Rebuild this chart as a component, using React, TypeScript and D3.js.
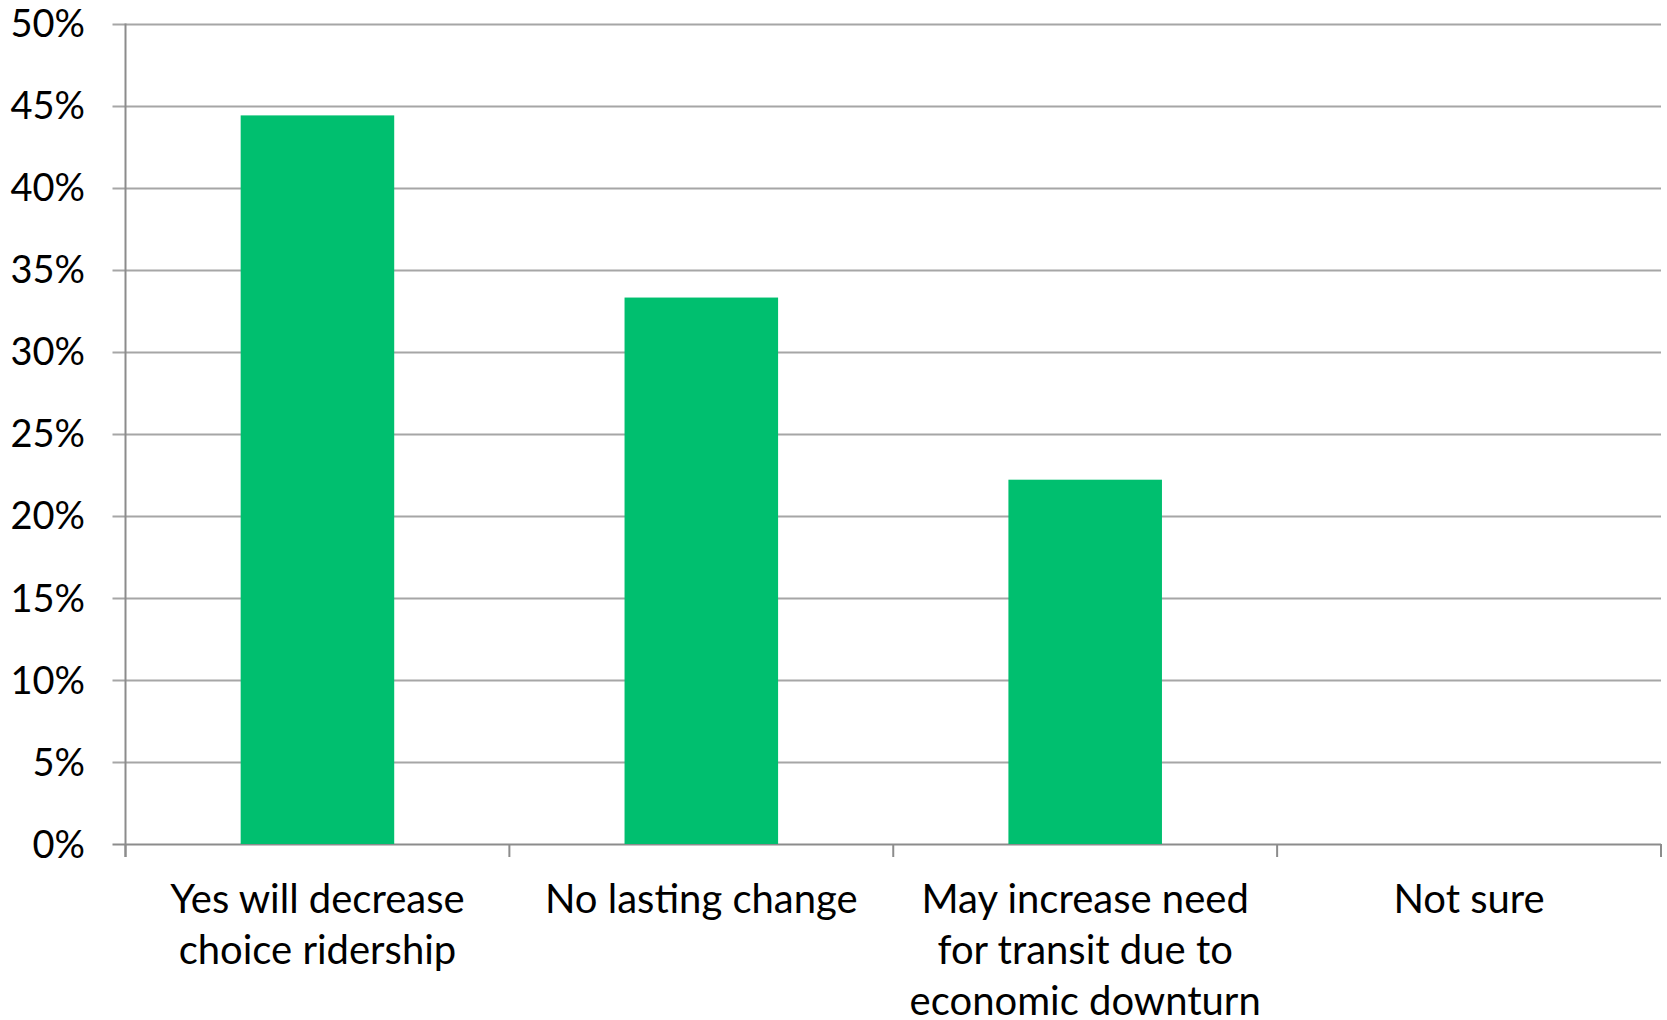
import React from "react";
import * as d3 from "d3";

const categories: string[][] = [
  ["Yes will decrease", "choice ridership"],
  ["No lasting change"],
  ["May increase need", "for transit due to", "economic downturn"],
  ["Not sure"],
];
const values: number[] = [0.444, 0.333, 0.222, 0];
const yTicks: number[] = [0, 0.05, 0.1, 0.15, 0.2, 0.25, 0.3, 0.35, 0.4, 0.45, 0.5];

const W = 1667;
const H = 1020;
const margin = { left: 125.5, right: 6, top: 23.5, bottom: 176 };
const FONT = "Lato, 'Open Sans', sans-serif";

export default function App() {
  const x = d3
    .scaleBand<number>()
    .domain(d3.range(categories.length))
    .range([margin.left, W - margin.right])
    .paddingInner(0.6)
    .paddingOuter(0.3);
  const band = d3
    .scaleBand<number>()
    .domain(d3.range(categories.length))
    .range([margin.left, W - margin.right]);
  const y = d3.scaleLinear().domain([0, 0.5]).range([H - margin.bottom, margin.top]);
  const fmt = d3.format(".0%");
  const grid = "#a6a6a6";
  const axis = "#8c8c8c";
  return (
    <svg width={W} height={H} style={{ position: "absolute", left: 0, top: 0 }}>
      <rect width={W} height={H} fill="#fff" />
      {yTicks.map((t) => (
        <g key={t}>
          <line
            x1={margin.left - 13}
            x2={W - margin.right}
            y1={Math.round(y(t)) + 0.5}
            y2={Math.round(y(t)) + 0.5}
            stroke={t === 0 ? axis : grid}
            strokeWidth={2}
          />
          <text
            x={85}
            y={y(t)}
            dy="0.36em"
            textAnchor="end"
            fontFamily={FONT}
            fontSize={38}
            fill="#000"
          >
            {fmt(t)}
          </text>
        </g>
      ))}
      {values.map((v, i) => (
        <rect
          key={i}
          x={x(i)}
          y={y(v)}
          width={x.bandwidth()}
          height={y(0) - y(v)}
          fill="#00BF6F"
        />
      ))}
      <line
        x1={margin.left}
        x2={margin.left}
        y1={margin.top}
        y2={y(0) + 13}
        stroke={axis}
        strokeWidth={2}
      />
      {d3.range(categories.length + 1).map((i) => {
        const xx = i < categories.length ? band(i)! : W - margin.right;
        return (
          <line key={i} x1={xx} x2={xx} y1={y(0)} y2={y(0) + 13} stroke={axis} strokeWidth={2} />
        );
      })}
      {categories.map((lines, i) => (
        <text
          key={i}
          x={band(i)! + band.bandwidth() / 2}
          y={913}
          textAnchor="middle"
          fontFamily={FONT}
          fontSize={40}
          fill="#000"
        >
          {lines.map((l, j) => (
            <tspan key={j} x={band(i)! + band.bandwidth() / 2} dy={j === 0 ? 0 : 51}>
              {l}
            </tspan>
          ))}
        </text>
      ))}
    </svg>
  );
}
